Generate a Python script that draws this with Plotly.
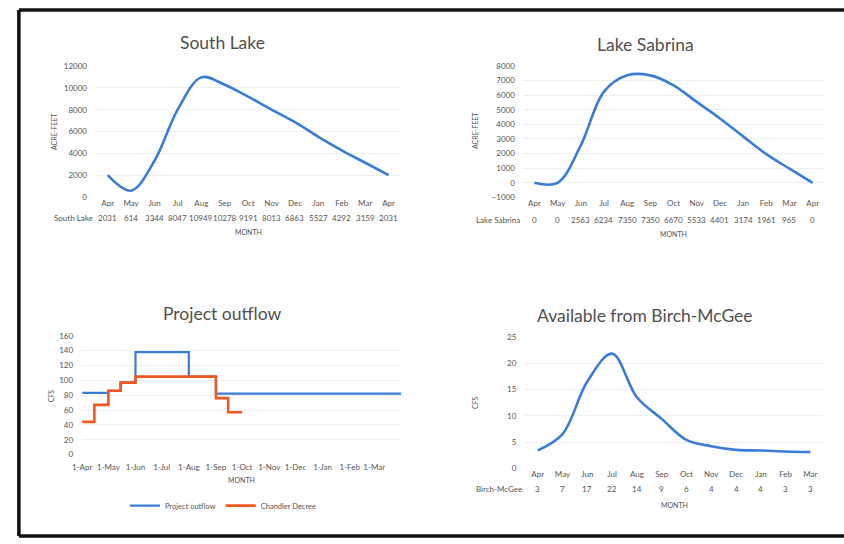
import plotly.graph_objects as go

W, H = 844, 544

# ---------------- data ----------------
months13 = ["Apr", "May", "Jun", "Jul", "Aug", "Sep", "Oct", "Nov", "Dec", "Jan", "Feb", "Mar", "Apr"]
south_lake = [2031, 614, 3344, 8047, 10949, 10278, 9191, 8013, 6863, 5527, 4292, 3159, 2031]
lake_sabrina = [0, 0, 2563, 6234, 7350, 7350, 6670, 5533, 4401, 3174, 1961, 965, 0]

months12 = ["Apr", "May", "Jun", "Jul", "Aug", "Sep", "Oct", "Nov", "Dec", "Jan", "Feb", "Mar"]
birch_cfs = [3.4, 6.5, 16.5, 21.8, 13.5, 9.4, 5.4, 4.2, 3.5, 3.4, 3.2, 3.1]
birch_table = [3, 7, 17, 22, 14, 9, 6, 4, 4, 4, 3, 3]

outflow_dates = ["2017-04-01", "2017-05-01", "2017-05-15", "2017-06-01", "2017-08-01",
                 "2017-09-01", "2018-04-01"]
outflow_cfs = [83, 86, 97, 138, 105, 82, 82]
chandler_dates = ["2017-04-01", "2017-04-15", "2017-05-01", "2017-05-15", "2017-06-01",
                  "2017-09-01", "2017-09-15", "2017-10-01"]
chandler_cfs = [44, 67, 86, 97, 105, 76, 57, 57]
outflow_ticks = ["2017-04-01", "2017-05-01", "2017-06-01", "2017-07-01", "2017-08-01",
                 "2017-09-01", "2017-10-01", "2017-11-01", "2017-12-01", "2018-01-01",
                 "2018-02-01", "2018-03-01"]

BLUE = "#3a7cd6"
ORANGE = "#f2571f"
TXT = "#555555"
GRID = "#efefef"
FONT = "Lato"


def px(x):
    return x / W


def py(y):
    return 1 - y / H


fig = go.Figure()

fig.add_trace(go.Scatter(x=list(range(13)), y=south_lake, mode="lines",
                         line=dict(color=BLUE, width=2.6, shape="spline", smoothing=1.0),
                         xaxis="x", yaxis="y", showlegend=False))
fig.add_trace(go.Scatter(x=list(range(13)), y=lake_sabrina, mode="lines",
                         line=dict(color=BLUE, width=2.6, shape="spline", smoothing=1.0),
                         xaxis="x2", yaxis="y2", showlegend=False))
fig.add_trace(go.Scatter(x=outflow_dates, y=outflow_cfs, mode="lines", name="Project outflow",
                         line=dict(color=BLUE, width=2.2, shape="hv"),
                         xaxis="x3", yaxis="y3"))
fig.add_trace(go.Scatter(x=chandler_dates, y=chandler_cfs, mode="lines", name="Chandler Decree",
                         line=dict(color=ORANGE, width=2.6, shape="hv"),
                         xaxis="x3", yaxis="y3"))
fig.add_trace(go.Scatter(x=list(range(12)), y=birch_cfs, mode="lines",
                         line=dict(color=BLUE, width=2.6, shape="spline", smoothing=1.0),
                         xaxis="x4", yaxis="y4", showlegend=False))

tickfont = dict(family=FONT, size=8, color=TXT)
common_x = dict(showgrid=False, zeroline=False, showline=False, ticks="", tickfont=tickfont,
                fixedrange=True)
common_y = dict(showgrid=True, gridcolor=GRID, gridwidth=1, zeroline=False, showline=False,
                ticks="", tickfont=tickfont, fixedrange=True, tickformat="d")

fig.update_layout(
    width=W, height=H,
    margin=dict(l=0, r=0, t=0, b=0),
    paper_bgcolor="white", plot_bgcolor="white",
    font=dict(family=FONT, color=TXT),
    xaxis=dict(common_x, domain=[px(87), px(395)], range=[-0.5, 12.5],
               tickvals=list(range(13)), ticktext=months13, anchor="y"),
    yaxis=dict(common_y, domain=[py(196), py(62)], range=[0, 12000], dtick=2000,
               anchor="x", ticklabelstandoff=8),
    xaxis2=dict(common_x, domain=[px(519), px(824)], range=[-0.5, 12.5],
                tickvals=list(range(13)), ticktext=months13, anchor="y2"),
    yaxis2=dict(common_y, domain=[py(196), py(62)], range=[-1000, 8000], dtick=1000,
                anchor="x2", ticklabelstandoff=7),
    xaxis3=dict(common_x, domain=[px(73), px(396)], range=["2017-04-01", "2018-04-01"],
                tickvals=outflow_ticks, tickformat="%-d-%b", anchor="y3",
                ticklabelstandoff=6),
    yaxis3=dict(common_y, domain=[py(458), py(337)], range=[0, 160], dtick=20,
                anchor="x3", ticklabelstandoff=8),
    xaxis4=dict(common_x, domain=[px(521.5), px(822.5)], range=[-0.5, 11.5],
                tickvals=list(range(12)), ticktext=months12, anchor="y4"),
    yaxis4=dict(common_y, domain=[py(472), py(338)], range=[0, 25], dtick=5,
                anchor="x4", ticklabelstandoff=8),
    legend=dict(orientation="h", x=px(216), xanchor="center", y=py(510), yanchor="middle",
                font=dict(family=FONT, size=7.5, color=TXT), itemwidth=30,
                tracegroupgap=0, bgcolor="rgba(0,0,0,0)"),
)

ann = []
# titles
for text, x, y in [("South Lake", 215, 38), ("Lake Sabrina", 643, 40),
                   ("Project outflow", 215, 314), ("Available from Birch-McGee", 643, 316)]:
    ann.append(dict(text=text, x=px(x), y=py(y), xref="paper", yref="paper",
                    xanchor="center", yanchor="middle", showarrow=False,
                    font=dict(family=FONT, size=17.5, color="#505050")))
# axis titles
for text, x, y in [("ACRE-FEET", 44, 129), ("ACRE-FEET", 470, 128),
                   ("CFS", 41, 398), ("CFS", 470, 405)]:
    ann.append(dict(text=text, x=px(x), y=py(y), xref="paper", yref="paper",
                    xanchor="center", yanchor="middle", showarrow=False, textangle=-90,
                    font=dict(family=FONT, size=7, color=TXT)))
for x, y in [(241, 231), (671.5, 233), (234.5, 484), (672, 509)]:
    ann.append(dict(text="MONTH", x=px(x), y=py(y), xref="paper", yref="paper",
                    xanchor="center", yanchor="middle", showarrow=False,
                    font=dict(family=FONT, size=7, color=TXT)))

# data tables
tables = [("South Lake", south_lake, "x", 217, 86),
          ("Lake Sabrina", lake_sabrina, "x2", 219, 518),
          ("Birch-McGee", birch_table, "x4", 493, 520)]
for label, vals, xr, y, lx in tables:
    ann.append(dict(text=label, x=px(lx), y=py(y), xref="paper", yref="paper",
                    xanchor="right", yanchor="middle", showarrow=False,
                    font=dict(family=FONT, size=8, color=TXT)))
    for i, v in enumerate(vals):
        ann.append(dict(text=str(v), x=i, y=py(y), xref=xr, yref="paper",
                        xanchor="center", yanchor="middle", showarrow=False,
                        font=dict(family=FONT, size=8, color=TXT)))

fig.update_layout(annotations=ann)

# scanned page border (left, top, bottom; the right side runs off the scan)
for x0, y0, x1, y1 in [(9, 5, 9, 541), (9, 5, 844, 5), (9, 541, 844, 541)]:
    fig.add_shape(type="line", xref="paper", yref="paper",
                  x0=px(x0), y0=py(y0), x1=px(x1), y1=py(y1),
                  line=dict(color="#111111", width=3.5))

fig.write_html(
    "out.html",
    config={"displayModeBar": False, "staticPlot": True},
    post_script=("document.documentElement.style.margin='0';"
                 "document.body.style.margin='0';document.body.style.overflow='hidden';"
                 "var d=document.getElementById('{plot_id}');"
                 "d.style.position='fixed';d.style.left='0px';d.style.top='0px';"),
)
